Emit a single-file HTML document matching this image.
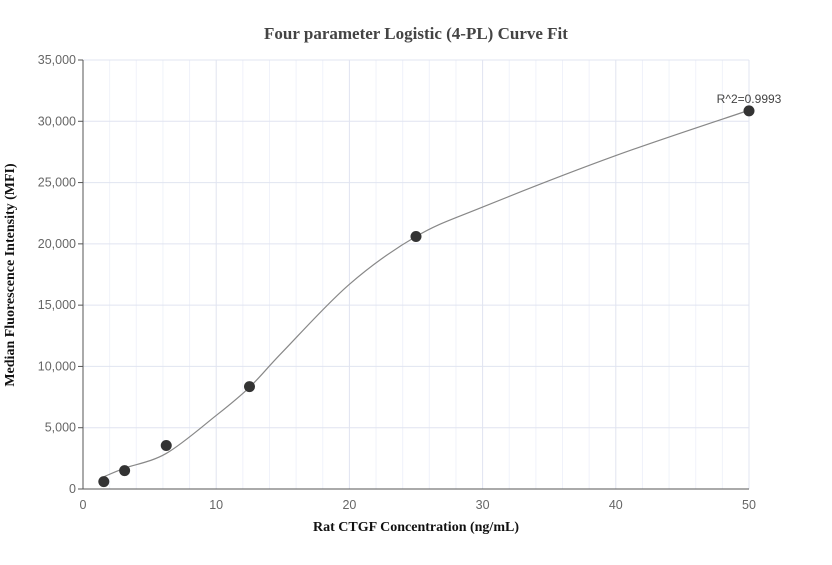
<!DOCTYPE html>
<html><head><meta charset="utf-8"><style>
body{margin:0;background:#fff;}
svg text{font-family:"Liberation Sans",sans-serif;}
</style></head><body>
<svg id="chart" width="832" height="560" xmlns="http://www.w3.org/2000/svg">
<text x="416" y="39" text-anchor="middle" style="font-family:'Liberation Serif',serif;font-weight:bold;font-size:17px;fill:#444">Four parameter Logistic (4-PL) Curve Fit</text>
<text x="416" y="531" text-anchor="middle" style="font-family:'Liberation Serif',serif;font-weight:bold;font-size:14px;fill:#111">Rat CTGF Concentration (ng/mL)</text>
<text transform="translate(14,275) rotate(-90)" text-anchor="middle" style="font-family:'Liberation Serif',serif;font-weight:bold;font-size:14px;fill:#111">Median Fluorescence Intensity (MFI)</text>
<g id="grid"></g><g id="axes"></g><g id="marks"></g>
</svg>
<script>
const xTicks=[0,10,20,30,40,50];
const xMinor=[2,4,6,8,12,14,16,18,22,24,26,28,32,34,36,38,42,44,46,48];
const yTicks=[0,5000,10000,15000,20000,25000,30000,35000];
const concentrations=[1.5625,3.125,6.25,12.5,25,50];
const mfiValues=[600,1500,3550,8350,20600,30850];
const curveX=[1.5625,3.125,6.25,10,12.5,15,20,25,30,40,50];
const curveY=[1000,1700,2900,6000,8300,11200,16700,20600,23000,27200,30900];
const rLabel="R^2=0.9993";
const X0=83,X1=749,Y0=489,Y1=60;
const sx=v=>X0+(v/50)*(X1-X0), sy=v=>Y0-(v/35000)*(Y0-Y1);
const NS="http://www.w3.org/2000/svg";
function mk(t,a,p){const e=document.createElementNS(NS,t);for(const k in a)e.setAttribute(k,a[k]);p.appendChild(e);return e;}
const g=document.getElementById('grid'),ax=document.getElementById('axes'),m=document.getElementById('marks');
xMinor.forEach(v=>{const l=mk('line',{x1:sx(v),x2:sx(v),y1:Y1,y2:Y0,stroke:'#f0f2fa'},g);

});
xTicks.forEach(v=>{const l=mk('line',{x1:sx(v),x2:sx(v),y1:Y1,y2:Y0,stroke:'#e0e4f0'},g);


const t=mk('text',{x:sx(v),y:Y0+20,'text-anchor':'middle','font-size':12.5,fill:'#666'},ax);t.textContent=v;

});
yTicks.forEach(v=>{const l=mk('line',{x1:X0,x2:X1,y1:sy(v),y2:sy(v),stroke:'#e0e4f0'},g);


mk('line',{x1:X0-5,x2:X0,y1:sy(v),y2:sy(v),stroke:'#555'},ax);
const t=mk('text',{x:X0-7,y:sy(v)+4,'text-anchor':'end','font-size':12.5,fill:'#666'},ax);t.textContent=v.toLocaleString('en-US');

});
const ya=mk('line',{x1:X0,x2:X0,y1:Y1,y2:Y0,stroke:'#555'},ax);


const xa=mk('line',{x1:X0,x2:X1,y1:Y0,y2:Y0,stroke:'#555'},ax);


const P=curveX.map((x,i)=>[sx(x),sy(curveY[i])]);
let d='M'+P[0][0]+','+P[0][1];
for(let i=0;i<P.length-1;i++){const p0=P[i-1]||P[i],p1=P[i],p2=P[i+1],p3=P[i+2]||P[i+1];
d+=` C${p1[0]+(p2[0]-p0[0])/6},${p1[1]+(p2[1]-p0[1])/6} ${p2[0]-(p3[0]-p1[0])/6},${p2[1]-(p3[1]-p1[1])/6} ${p2[0]},${p2[1]}`;}
const c=mk('path',{d:d,fill:'none',stroke:'#888','stroke-width':1.2},m);


concentrations.forEach((x,i)=>{const p=mk('circle',{cx:sx(x),cy:sy(mfiValues[i]),r:5.5,fill:'#333'},m);

});
const r=mk('text',{x:sx(50),y:sy(mfiValues[5])-8,'text-anchor':'middle','font-size':12,fill:'#444'},m);r.textContent=rLabel;


</script>
</body></html>
